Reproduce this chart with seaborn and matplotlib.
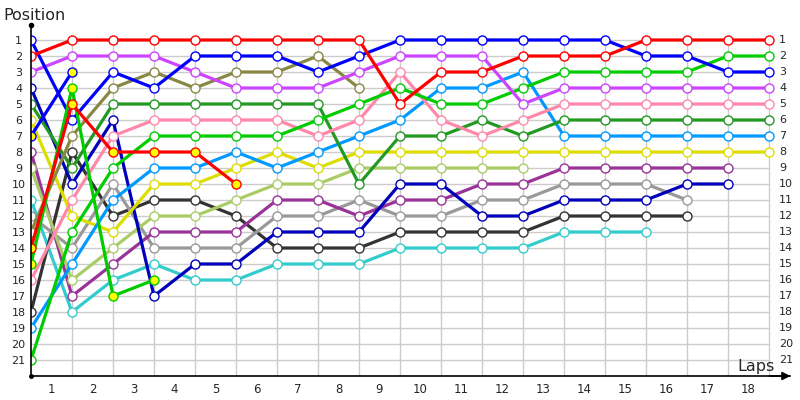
import pandas as pd
import matplotlib
matplotlib.use("Agg")
import matplotlib.pyplot as plt
import seaborn as sns

# positions per lap (index 0 = start grid), one list per car
blue = [1, 6, 3, 4, 2, 2, 2, 3, 2, 1, 1, 1, 1, 1, 1, 2, 2, 3, 3]
red = [2, 1, 1, 1, 1, 1, 1, 1, 1, 5, 3, 3, 2, 2, 2, 1, 1, 1, 1]
violet = [3, 2, 2, 2, 3, 4, 4, 4, 3, 2, 2, 2, 5, 4, 4, 4, 4, 4, 4]
navy = [4, 10, 6, 17, 15, 15, 13, 13, 13, 10, 10, 12, 12, 11, 11, 11, 10, 10]
dark_green = [5, 9, 5, 5, 5, 5, 5, 5, 10, 7, 7, 6, 7, 6, 6, 6, 6, 6, 6]
yellow = [6, 12, 13, 10, 10, 9, 8, 9, 8, 8, 8, 8, 8, 8, 8, 8, 8, 8, 8]
blue_b = [7, 3]
purple = [8, 17, 15, 13, 13, 13, 11, 11, 12, 11, 11, 10, 10, 9, 9, 9, 9, 9]
light_olive = [9, 16, 14, 12, 12, 11, 10, 10, 9, 9, 9, 9, 9]
cyan = [11, 18, 16, 15, 16, 16, 15, 15, 15, 14, 14, 14, 14, 13, 13, 13]
gray = [12, 14, 10, 14, 14, 14, 12, 12, 11, 12, 12, 11, 11, 10, 10, 10, 11]
olive = [13, 7, 4, 3, 4, 3, 3, 2, 4]
red_b = [14, 5, 8, 8, 8, 10]
green_b = [15, 4, 17, 16]
pink = [16, 11, 7, 6, 6, 6, 6, 7, 6, 3, 6, 7, 6, 5, 5, 5, 5, 5, 5]
dark_gray = [18, 8, 12, 11, 11, 12, 14, 14, 14, 13, 13, 13, 13, 12, 12, 12, 12]
light_blue = [19, 15, 11, 9, 9, 8, 9, 8, 7, 6, 4, 4, 3, 7, 7, 7, 7, 7, 7]
green = [21, 13, 9, 7, 7, 7, 7, 6, 5, 4, 5, 5, 4, 3, 3, 3, 3, 2, 2]

lap_labels = [str(i) for i in range(1, 19)]
positions = list(range(1, 22))

cars = [
    (cyan, '#33cccc', 'white'),
    (dark_gray, '#333333', 'white'),
    (gray, '#999999', 'white'),
    (purple, '#993399', 'white'),
    (light_olive, '#aacc66', 'white'),
    (navy, '#0000bb', 'white'),
    (yellow, '#dddd00', 'white'),
    (light_blue, '#0099ff', 'white'),
    (dark_green, '#229922', 'white'),
    (pink, '#ff88aa', 'white'),
    (olive, '#888844', 'white'),
    (green, '#00cc00', 'white'),
    (violet, '#cc44ff', 'white'),
    (blue, '#0000ff', 'white'),
    (red, '#ff0000', 'white'),
    (green_b, '#00cc00', '#ffff00'),
    (red_b, '#ff0000', '#ffff00'),
    (blue_b, '#0000ff', '#ffff00'),
]

sns.set_style('white')
plt.rcParams['font.family'] = ['DejaVu Sans']

fig = plt.figure(figsize=(8, 4), dpi=100)
ax = fig.add_axes([31 / 800, 0.06, 758.5 / 800, 0.88])

# grid
ax.hlines(positions, 0, 18, color='#cccccc', lw=1, zorder=0)
ax.vlines(range(1, 19), 0.7, 22, color='#cccccc', lw=1, zorder=0)

for pos, col, fill in cars:
    df = pd.DataFrame({'lap': range(len(pos)), 'pos': pos})
    sns.lineplot(data=df, x='lap', y='pos', color=col, lw=2.3, marker='o',
                 markersize=6.5, markerfacecolor=fill, markeredgecolor=col,
                 markeredgewidth=1.0, ax=ax, legend=False)

ax.set_xlim(0, 18.5)
ax.set_ylim(22, 0)
ax.set_xlabel('')
ax.set_ylabel('')

ax.set_yticks(positions)
ax.set_yticklabels([str(p) for p in positions], fontsize=8)
ax.set_xticks([i + 0.5 for i in range(18)])
ax.set_xticklabels(lap_labels, fontsize=8.5)
ax.tick_params(length=0, pad=5)
ax.tick_params(axis='y', pad=9)
for lbl in ax.get_yticklabels():
    lbl.set_horizontalalignment('center')

for p in positions:
    ax.text(18.25, p, str(p), fontsize=8, va='center', ha='left')

for s in ['top', 'right']:
    ax.spines[s].set_visible(False)
ax.spines['left'].set_color('black')
ax.spines['bottom'].set_color('black')
ax.spines['left'].set_linewidth(1.2)
ax.spines['bottom'].set_linewidth(1.2)

# axis arrow and dots
ax.annotate('', xy=(1.005, 0), xytext=(0.97, 0), xycoords='axes fraction',
            arrowprops=dict(arrowstyle='-|>', color='black', lw=1.2,
                            mutation_scale=12))
ax.plot([0], [0.05], 'o', color='black', ms=3, clip_on=False)
ax.plot([0], [22], 'o', color='black', ms=2.5, clip_on=False)

fig.text(3 / 800, 1 - 16 / 400, 'Position', fontsize=11.5, va='center', ha='left')
fig.text(775 / 800, 1 - 367 / 400, 'Laps', fontsize=11.5, va='center', ha='right')

fig.savefig('out.png', dpi=100)
